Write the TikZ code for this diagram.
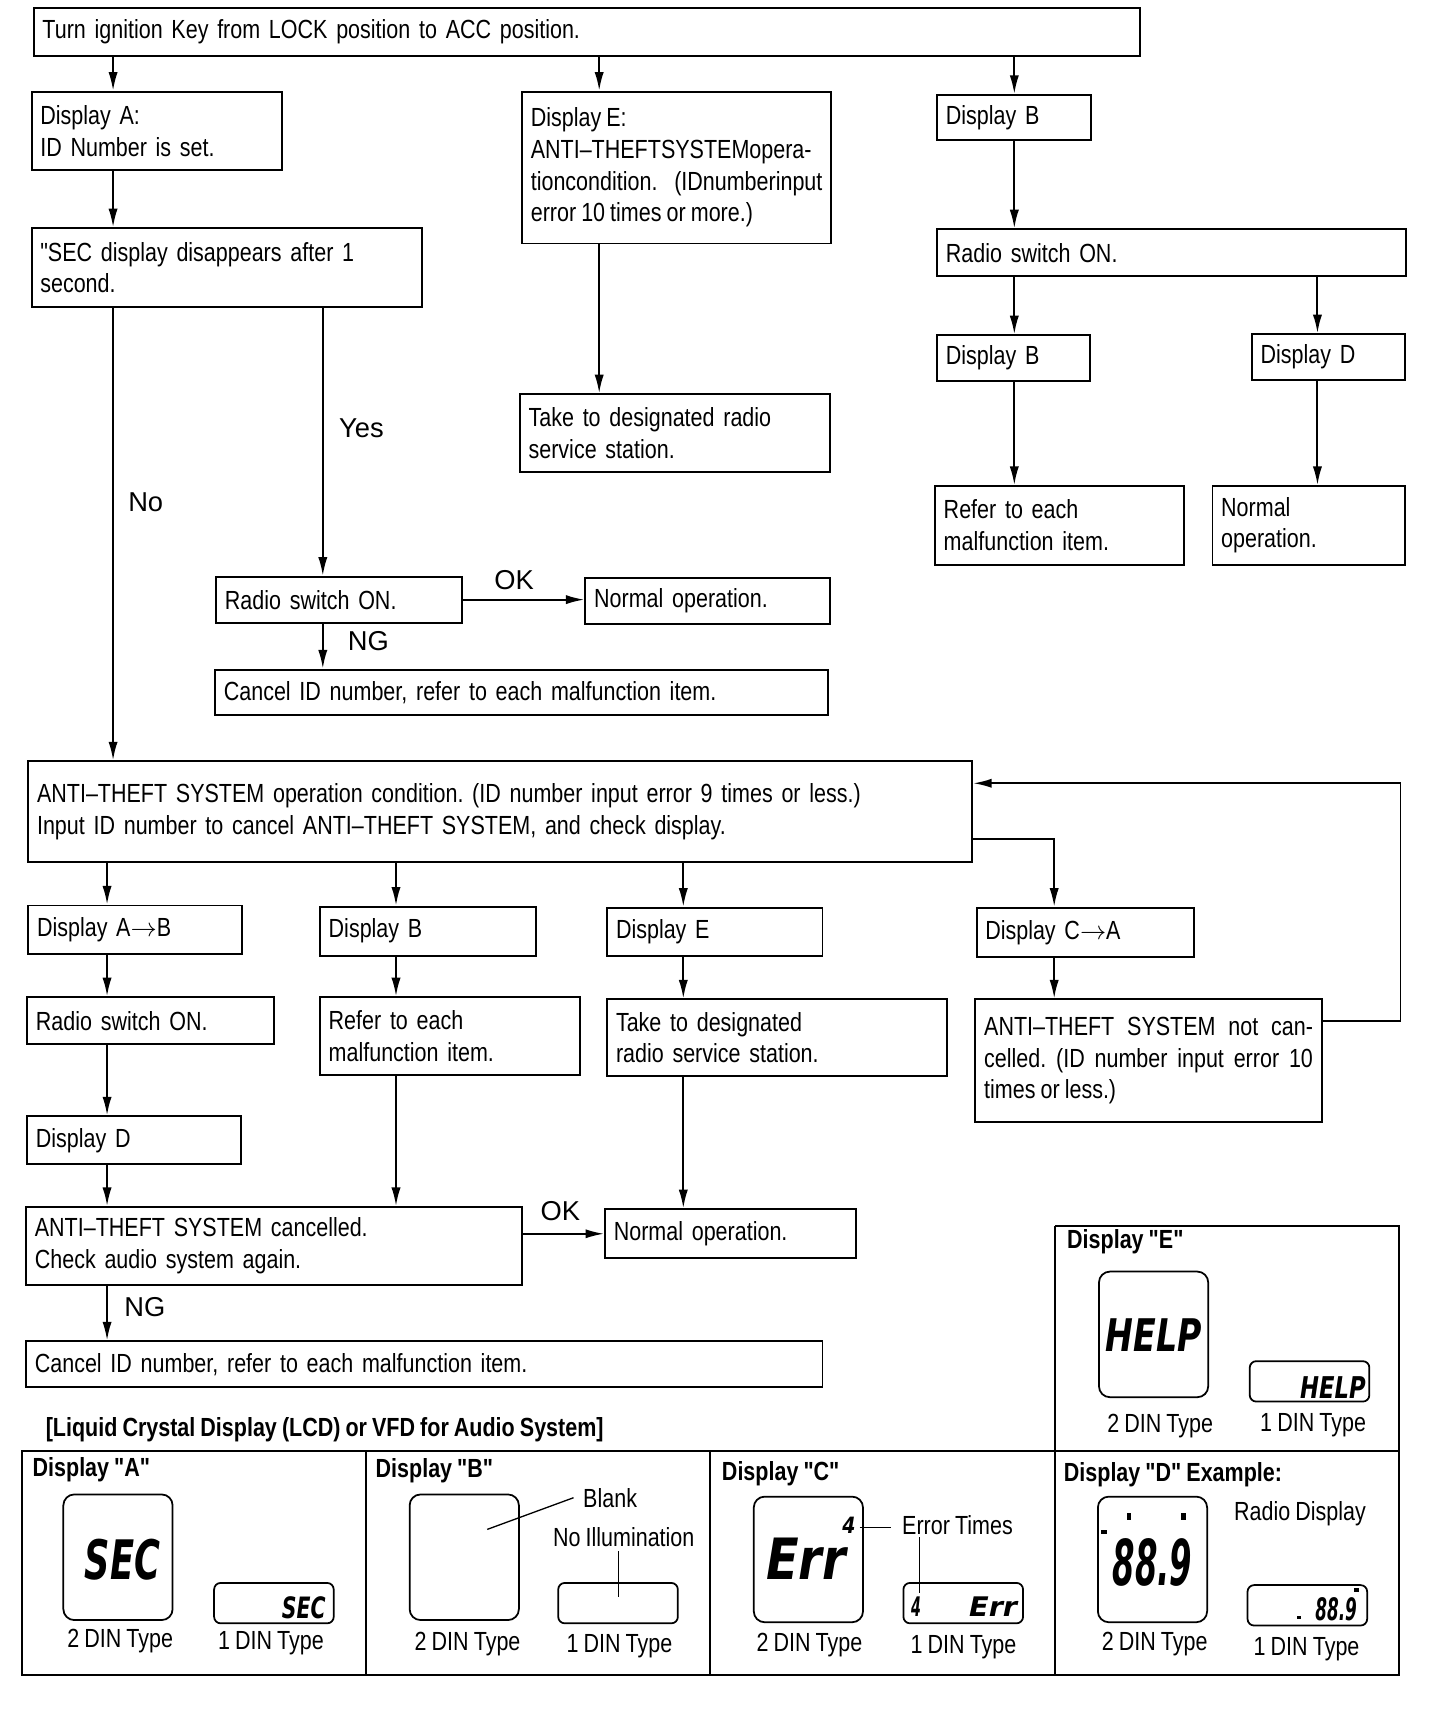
\documentclass[tikz,border=0pt]{standalone}
\usepackage{graphicx}
\usepackage{fontspec}
\setmainfont{Liberation Sans}[FakeStretch=0.82, WordSpace=0.85, Ligatures=TeXOff]
\newfontfamily\lblfont{Liberation Sans}
\newfontfamily\lcdfont{DejaVu Sans}
\usetikzlibrary{arrows.meta}
\frenchspacing
\newcommand{\twodin}[2] % {x}{y} upper left corner
{
	\draw [thick, rounded corners=5pt] (#1,#2) rectangle ++(100,115);
}
\newcommand{\onedin}[2] % {x}{y} upper left corner
{
	\draw [thick, rounded corners=3pt] (#1,#2) rectangle ++(109.5,37);
}
\newcommand{\lcdtext}[3] % {width}{height}{text}
{\resizebox{#1}{#2}{\lcdfont\bfseries\itshape #3}}

\begin{document}
\begin{tikzpicture}[x=0.5pt, y=-0.5pt, line width=0.9pt,
	>={Latex[length=8.5pt,width=4.2pt]},
	every node/.style={font=\fontsize{12}{14.5}\selectfont},
	box/.style={draw, anchor=north west, inner xsep=4pt, inner ysep=1pt, align=left},
	jbox/.style={box, align=justify},
	lbl/.style={font=\lblfont\fontsize{12.5}{14}\selectfont, inner sep=0pt},
	ttl/.style={font=\bfseries\fontsize{12}{14}\selectfont, anchor=west, inner sep=0pt},
	txt/.style={inner sep=0pt}]
	\fill[white] (0,0) rectangle (1318.2,1569);
	\useasboundingbox (0,0) rectangle (1318.2,1569);

	% upper part
	\node[box, text width=498.5pt, minimum height=22pt] (key) at (30,6) {Turn ignition Key from LOCK position to ACC position.};
	\node[box, text width=106.5pt, minimum height=36pt] (dispA) at (28,83) {Display A:\\ID Number is set.};
	\node[box, text width=170.5pt, minimum height=36pt] (sec) at (28,208) {"SEC display disappears after 1\\second.};
	\node[jbox, text width=133.5pt, minimum height=69.5pt] (dispE) at (477,83) {Display E:\\ANTI–THEFTSYSTEMopera-\linebreak tioncondition. (IDnumberinput\linebreak error 10 times or more.)};
	\node[box, text width=134pt, minimum height=35.5pt] (takeE) at (475,360) {Take to designated radio\\service station.};
	\node[box, text width=62.5pt, minimum height=20.5pt] (dispB) at (857,86) {Display B};
	\node[box, text width=206.5pt, minimum height=21.5pt] (radioB) at (857,209) {Radio switch ON.};
	\node[box, text width=62pt, minimum height=21pt] (dispBB) at (857,306) {Display B};
	\node[box, text width=62pt, minimum height=21pt] (dispD) at (1145,305) {Display D};
	\node[box, text width=106pt, minimum height=36pt] (referB) at (855,444) {Refer to each\\malfunction item.};
	\node[box, text width=80pt, minimum height=36pt] (normD) at (1109,444) {Normal\\operation.};
	\node[box, text width=104.5pt, minimum height=21pt] (radioY) at (197,527) {Radio switch ON.};
	\node[box, text width=104pt, minimum height=21pt] (normY) at (535,528) {Normal operation.};
	\node[box, text width=272.5pt, minimum height=21pt] (cancelY) at (196,612) {Cancel ID number, refer to each malfunction item.};
	\node[box, text width=424pt, minimum height=46pt] (anti) at (25,696) {ANTI–THEFT SYSTEM operation condition. (ID number input error 9 times or less.)\\Input ID number to cancel ANTI–THEFT SYSTEM, and check display.};

	% lower part
	\node[box, text width=90pt, minimum height=22pt] (dispAB) at (25,828) {Display A$\rightarrow$B};
	\node[box, text width=105pt, minimum height=21.5pt] (radioL) at (24,912) {Radio switch ON.};
	\node[box, text width=90pt, minimum height=22pt] (dispDL) at (24,1021) {Display D};
	\node[box, text width=91pt, minimum height=22.5pt] (dispBL) at (292,829) {Display B};
	\node[box, text width=111pt, minimum height=35.5pt] (referL) at (292,912) {Refer to each\\malfunction item.};
	\node[box, text width=90.5pt, minimum height=22pt] (dispEL) at (555,830) {Display E};
	\node[box, text width=147.5pt, minimum height=35pt] (takeL) at (555,914) {Take to designated\\radio service station.};
	\node[box, text width=91.5pt, minimum height=22.5pt] (dispCA) at (893,830) {Display C$\rightarrow$A};
	\node[jbox, text width=150.5pt, minimum height=56pt] (notc) at (892,914) {ANTI–THEFT SYSTEM not can-\linebreak celled. (ID number input error 10\linebreak times or less.)};
	\node[box, text width=219pt, minimum height=35.5pt] (cancd) at (23,1104) {ANTI–THEFT SYSTEM cancelled.\\Check audio system again.};
	\node[box, text width=107pt, minimum height=22.5pt] (normL) at (553,1106) {Normal operation.};
	\node[box, text width=356.5pt, minimum height=21pt] (cancelL) at (23,1227) {Cancel ID number, refer to each malfunction item.};

	\coordinate (cA) at (103.5,0);
	\coordinate (cY) at (295.5,0);
	\coordinate (cE) at (548.5,0);
	\coordinate (cB) at (928.5,0);
	\coordinate (cD) at (1206,0);
	\coordinate (c1) at (98,0);
	\coordinate (c2) at (362.5,0);
	\coordinate (c3) at (625.5,0);
	\coordinate (cC) at (965,768);
	\coordinate (back) at (1282,935);
	\coordinate (backT) at (1282,717);

	\draw[->] (key.south -| cA) -- (dispA.north -| cA);
	\draw[->] (dispA.south -| cA) -- (sec.north -| cA);
	\draw[->] (sec.south -| cA) -- node[lbl, right=6.5pt, pos=.43] (no) {No} (anti.north -| cA);
	\draw[->] (sec.south -| cY) -- node[lbl, right=7pt, pos=.45] (yes) {Yes} (radioY.north -| cY);
	\draw[->] (radioY.east) -- node[lbl, above=4pt, pos=.42] (ok1) {OK} (radioY.east -| normY.west);
	\draw[->] (radioY.south -| cY) -- node[lbl, right=11pt, pos=.4] (ng1) {NG} (cancelY.north -| cY);
	\draw[->] (key.south -| cE) -- (dispE.north -| cE);
	\draw[->] (dispE.south -| cE) -- (takeE.north -| cE);
	\draw[->] (key.south -| cB) -- (dispB.north -| cB);
	\draw[->] (dispB.south -| cB) -- (radioB.north -| cB);
	\draw[->] (radioB.south -| cB) -- (dispBB.north -| cB);
	\draw[->] (dispBB.south -| cB) -- (referB.north -| cB);
	\draw[->] (radioB.south -| cD) -- (dispD.north -| cD);
	\draw[->] (dispD.south -| cD) -- (normD.north -| cD);

	\draw[->] (anti.south -| c1) -- (dispAB.north -| c1);
	\draw[->] (dispAB.south -| c1) -- (radioL.north -| c1);
	\draw[->] (radioL.south -| c1) -- (dispDL.north -| c1);
	\draw[->] (dispDL.south -| c1) -- (cancd.north -| c1);
	\draw[->] (cancd.south -| c1) -- node[lbl, right=7.5pt, pos=.4] (ng2) {NG} (cancelL.north -| c1);
	\draw[->] (anti.south -| c2) -- (dispBL.north -| c2);
	\draw[->] (dispBL.south -| c2) -- (referL.north -| c2);
	\draw[->] (referL.south -| c2) -- (cancd.north -| c2);
	\draw[->] (anti.south -| c3) -- (dispEL.north -| c3);
	\draw[->] (dispEL.south -| c3) -- (takeL.north -| c3);
	\draw[->] (takeL.south -| c3) -- (normL.north -| c3);
	\draw[->] (cancd.east |- normL.west) -- node[lbl, above=5.5pt, pos=.46] (ok2) {OK} (normL.west);
	\draw[->] (anti.east |- cC) -| (dispCA.north -| cC);
	\draw[->] (dispCA.south -| cC) -- (notc.north -| cC);
	\draw[->] (notc.east |- back) -- (back) |- (anti.east |- backT);

	% display panel
	\node[ttl] (lcdttl) at (41,1309) {[Liquid Crystal Display (LCD) or VFD for Audio System]};
	\draw (20,1328) rectangle (1281,1533);
	\draw (335,1328) -- (335,1533);
	\draw (650,1328) -- (650,1533);
	\draw (966,1122) -- (966,1533);
	\draw (966,1122) -- (1281,1122) -- (1281,1328);

	\node[ttl] (ttlA) at (29,1345) {Display "A"};
	\twodin{58}{1368}
	\onedin{196}{1449}
	\node (lcdA) at (112,1428) {\lcdtext{34.5pt}{18.5pt}{SEC}};
	\node[txt, anchor=east] (lcdAs) at (299,1472) {\lcdtext{20pt}{10pt}{SEC}};
	\node[txt] (typA2) at (110,1502) {2 DIN Type};
	\node[txt] (typA1) at (248,1504) {1 DIN Type};

	\node[ttl] (ttlB) at (343,1346) {Display "B"};
	\twodin{375}{1368}
	\onedin{511}{1449}
	\node[txt, anchor=west] (blank) at (533,1371) {Blank};
	\draw[line width=0.6pt] (446,1400) -- (525,1371);
	\node[txt] (noill) at (571,1407) {No Illumination};
	\draw[line width=0.6pt] (566,1420) -- (566,1462);
	\node[txt] (typB2) at (428,1505) {2 DIN Type};
	\node[txt] (typB1) at (567,1507) {1 DIN Type};

	\node[ttl] (ttlC) at (660,1349) {Display "C"};
	\twodin{690}{1370}
	\onedin{827}{1449}
	\node (lcdC) at (738,1427) {\lcdtext{36.5pt}{19pt}{Err}};
	\node[txt] (lcdCn) at (777,1396) {\lcdtext{6pt}{7.5pt}{4}};
	\node[txt, anchor=west] (errt) at (825,1396) {Error Times};
	\draw[line width=0.6pt] (787,1398) -- (816,1398);
	\draw[line width=0.6pt] (842,1407) -- (842,1458);
	\node[txt] (lcdCsn) at (838.5,1471) {\lcdtext{4.5pt}{9pt}{4}};
	\node[txt, anchor=east] (lcdCs) at (932,1471) {\lcdtext{22pt}{9pt}{Err}};
	\node[txt] (typC2) at (741,1506) {2 DIN Type};
	\node[txt] (typC1) at (882,1508) {1 DIN Type};

	\node[ttl] (ttlD) at (973,1350) {Display "D" Example:};
	\twodin{1005}{1370}
	\onedin{1142}{1451}
	\node (lcdD) at (1055,1430) {\lcdtext{36.5pt}{21.5pt}{88.9}};
	\fill (1032,1385) rectangle ++(3,6);
	\fill (1081,1385) rectangle ++(5,6);
	\fill (1008,1401) rectangle ++(5,3);
	\node[txt] (radiod) at (1190,1386) {Radio Display};
	\node[txt, anchor=east] (lcdDs) at (1243,1473) {\lcdtext{19pt}{10.5pt}{88.9}};
	\fill (1187,1479) rectangle ++(4,3);
	\fill (1239,1454) rectangle ++(5,3);
	\node[txt] (typD2) at (1057,1505) {2 DIN Type};
	\node[txt] (typD1) at (1196,1510) {1 DIN Type};

	\node[ttl] (ttlE) at (976,1137) {Display "E"};
	\twodin{1006}{1164}
	\onedin{1144}{1246}
	\node (lcdE) at (1056,1222) {\lcdtext{44pt}{15pt}{HELP}};
	\node[txt, anchor=east] (lcdEs) at (1251,1270) {\lcdtext{30pt}{10pt}{HELP}};
	\node[txt] (typE2) at (1062,1305) {2 DIN Type};
	\node[txt] (typE1) at (1202,1305) {1 DIN Type};
\end{tikzpicture}
\end{document}
